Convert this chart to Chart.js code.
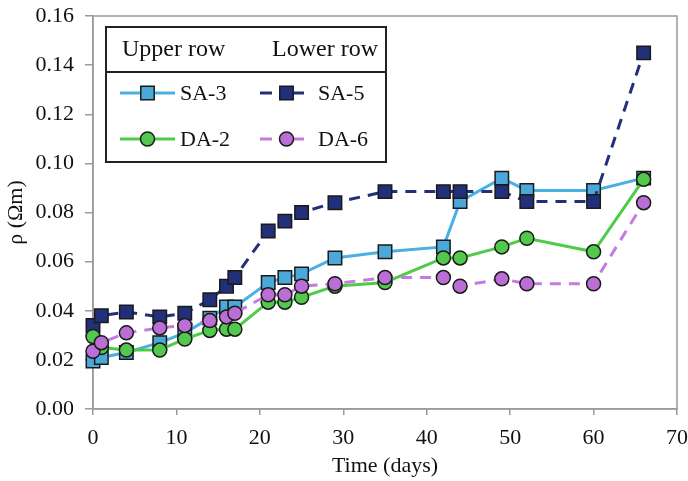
<!DOCTYPE html>
<html>
<head>
<meta charset="utf-8">
<script src="https://cdn.jsdelivr.net/npm/chart.js@4.4.1/dist/chart.umd.min.js"></script>
<style>
  html, body { margin: 0; padding: 0; background: #fff; }
  #wrap { width: 688px; height: 481px; }
</style>
</head>
<body>
<div id="wrap"><canvas id="myChart" width="688" height="481"></canvas></div>
<script>
// time in days (same sampling for all four sensors)
const days = [0, 1, 4, 8, 11, 14, 16, 17, 21, 23, 25, 29, 35, 42, 44, 49, 52, 60, 66]

// resistivity values (Ohm m)
const sa3 = [0.0195, 0.021, 0.023, 0.027, 0.031, 0.037, 0.0415, 0.0415, 0.0515, 0.0535, 0.055, 0.0615, 0.064, 0.066, 0.0845, 0.094, 0.089, 0.089, 0.094]
const sa5 = [0.034, 0.038, 0.0395, 0.0375, 0.039, 0.0445, 0.050, 0.0535, 0.0725, 0.0765, 0.080, 0.084, 0.0885, 0.0885, 0.0885, 0.0885, 0.0845, 0.0845, 0.145]
const da2 = [0.0295, 0.025, 0.024, 0.024, 0.0285, 0.032, 0.0325, 0.0325, 0.0435, 0.0435, 0.0455, 0.050, 0.0515, 0.0615, 0.0615, 0.066, 0.0695, 0.064, 0.0935]
const da6 = [0.0235, 0.027, 0.031, 0.033, 0.034, 0.036, 0.0375, 0.039, 0.0465, 0.0465, 0.050, 0.051, 0.0535, 0.0535, 0.050, 0.053, 0.051, 0.051, 0.084]

const xTicks = [0, 10, 20, 30, 40, 50, 60, 70]
const yTicks = [0, 0.02, 0.04, 0.06, 0.08, 0.10, 0.12, 0.14, 0.16]

const SERIF = "'Liberation Serif', 'DejaVu Serif', serif"

const toPoints = (vals) => days.map((d, i) => ({ x: d, y: vals[i] }))

const makeSet = (label, vals, color, fill, style, dash, order) => ({
    label: label,
    data: toPoints(vals),
    borderColor: color,
    backgroundColor: fill,
    borderWidth: 3,
    borderDash: dash,
    pointStyle: style,
    pointRadius: style === 'rect' ? 9.5 : 7,
    pointBackgroundColor: fill,
    pointBorderColor: '#1a1a1a',
    pointBorderWidth: 1.5,
    tension: 0,
    clip: false,
    order: order
})

const datasets = [
    makeSet('SA-3', sa3, '#4ab0e2', '#4aa9d9', 'rect', [], 4),
    makeSet('SA-5', sa5, '#22307a', '#22307a', 'rect', [11, 8], 3),
    makeSet('DA-2', da2, '#4fcb4a', '#52c94c', 'circle', [], 2),
    makeSet('DA-6', da6, '#c47be0', '#bb6fd6', 'circle', [11, 8], 1)
]

// box around plot (drawn under the data)
const plotFrame = {
    id: 'plotFrame',
    beforeDatasetsDraw(chart) {
        const c = chart.ctx
        const a = chart.chartArea
        c.save()
        c.strokeStyle = '#9a9a9a'
        c.lineWidth = 1.5
        c.strokeRect(a.left, a.top, a.right - a.left, a.bottom - a.top)
        c.restore()
    }
}

// the "Upper row / Lower row" legend
const boxLegend = {
    id: 'boxLegend',
    afterDraw(chart) {
        const c = chart.ctx
        c.save()
        const L = 106, T = 27, R = 386, B = 162, H = 72
        c.fillStyle = '#fff'
        c.fillRect(L, T, R - L, B - T)
        c.strokeStyle = '#222'
        c.lineWidth = 2
        c.strokeRect(L, T, R - L, B - T)
        c.beginPath()
        c.moveTo(L, H)
        c.lineTo(R, H)
        c.stroke()

        c.fillStyle = '#111'
        c.font = "24px " + SERIF
        c.textBaseline = 'middle'
        c.textAlign = 'left'
        c.fillText('Upper row', 122, 50)
        c.fillText('Lower row', 272, 50)

        c.font = "22px " + SERIF
        const entries = [
            { ds: 0, x: 120, y: 93 },
            { ds: 1, x: 260, y: 93 },
            { ds: 2, x: 120, y: 139 },
            { ds: 3, x: 260, y: 139 }
        ]
        entries.forEach(e => {
            const ds = chart.data.datasets[e.ds]
            const len = ds.borderDash.length ? 53 : 55
            c.save()
            c.strokeStyle = ds.borderColor
            c.lineWidth = 3
            c.setLineDash(ds.borderDash.length ? [12, 20] : [])
            c.beginPath()
            c.moveTo(e.x, e.y)
            c.lineTo(e.x + len, e.y)
            c.stroke()
            c.restore()
            c.fillStyle = ds.pointBackgroundColor
            c.strokeStyle = ds.pointBorderColor
            c.lineWidth = ds.pointBorderWidth
            c.beginPath()
            if (ds.pointStyle === 'rect') {
                const s = ds.pointRadius * Math.SQRT1_2
                c.rect(e.x + len / 2 - s, e.y - s, 2 * s, 2 * s)
            } else {
                c.arc(e.x + len / 2, e.y, ds.pointRadius, 0, Math.PI * 2)
            }
            c.fill()
            c.stroke()
            c.fillStyle = '#111'
            c.fillText(ds.label, e.x + len + 5, e.y + 1)
        })
        c.restore()
    }
}

const ctx = document.getElementById('myChart')
new Chart(ctx, {
    type: 'line',
    data: { datasets: datasets },
    options: {
        responsive: false,
        animation: false,
        layout: { padding: { top: 16, right: 11, left: 0, bottom: 0 } },
        plugins: { legend: { display: false }, tooltip: { enabled: false } },
        scales: {
            x: {
                type: 'linear',
                min: 0,
                max: 70,
                afterBuildTicks: (s) => { s.ticks = xTicks.map(v => ({ value: v })) },
                afterFit: (s) => { s.height = 72; s.paddingLeft = 0; s.paddingRight = 0 },
                grid: { drawOnChartArea: false, drawTicks: true, tickLength: 6, color: '#9a9a9a', lineWidth: 1.5 },
                border: { display: true, color: '#9a9a9a', width: 1.5 },
                ticks: { color: '#111', font: { family: SERIF, size: 22 }, padding: 10, maxRotation: 0 },
                title: { display: true, text: 'Time (days)', color: '#111', font: { family: SERIF, size: 22 }, padding: { top: 2, bottom: 2 } }
            },
            y: {
                min: 0,
                max: 0.16,
                afterBuildTicks: (s) => { s.ticks = yTicks.map(v => ({ value: v })) },
                afterFit: (s) => { s.width = 93; s.paddingTop = 0; s.paddingBottom = 0 },
                grid: { drawOnChartArea: false, drawTicks: true, tickLength: 8, color: '#9a9a9a', lineWidth: 1.5 },
                border: { display: true, color: '#9a9a9a', width: 1.5 },
                ticks: { color: '#111', font: { family: SERIF, size: 22 }, padding: 11, callback: (v) => v.toFixed(2) },
                title: { display: true, text: 'ρ (Ωm)', color: '#111', font: { family: SERIF, size: 22 }, padding: { top: 3, bottom: 2 } }
            }
        }
    },
    plugins: [plotFrame, boxLegend]
})
</script>
</body>
</html>
